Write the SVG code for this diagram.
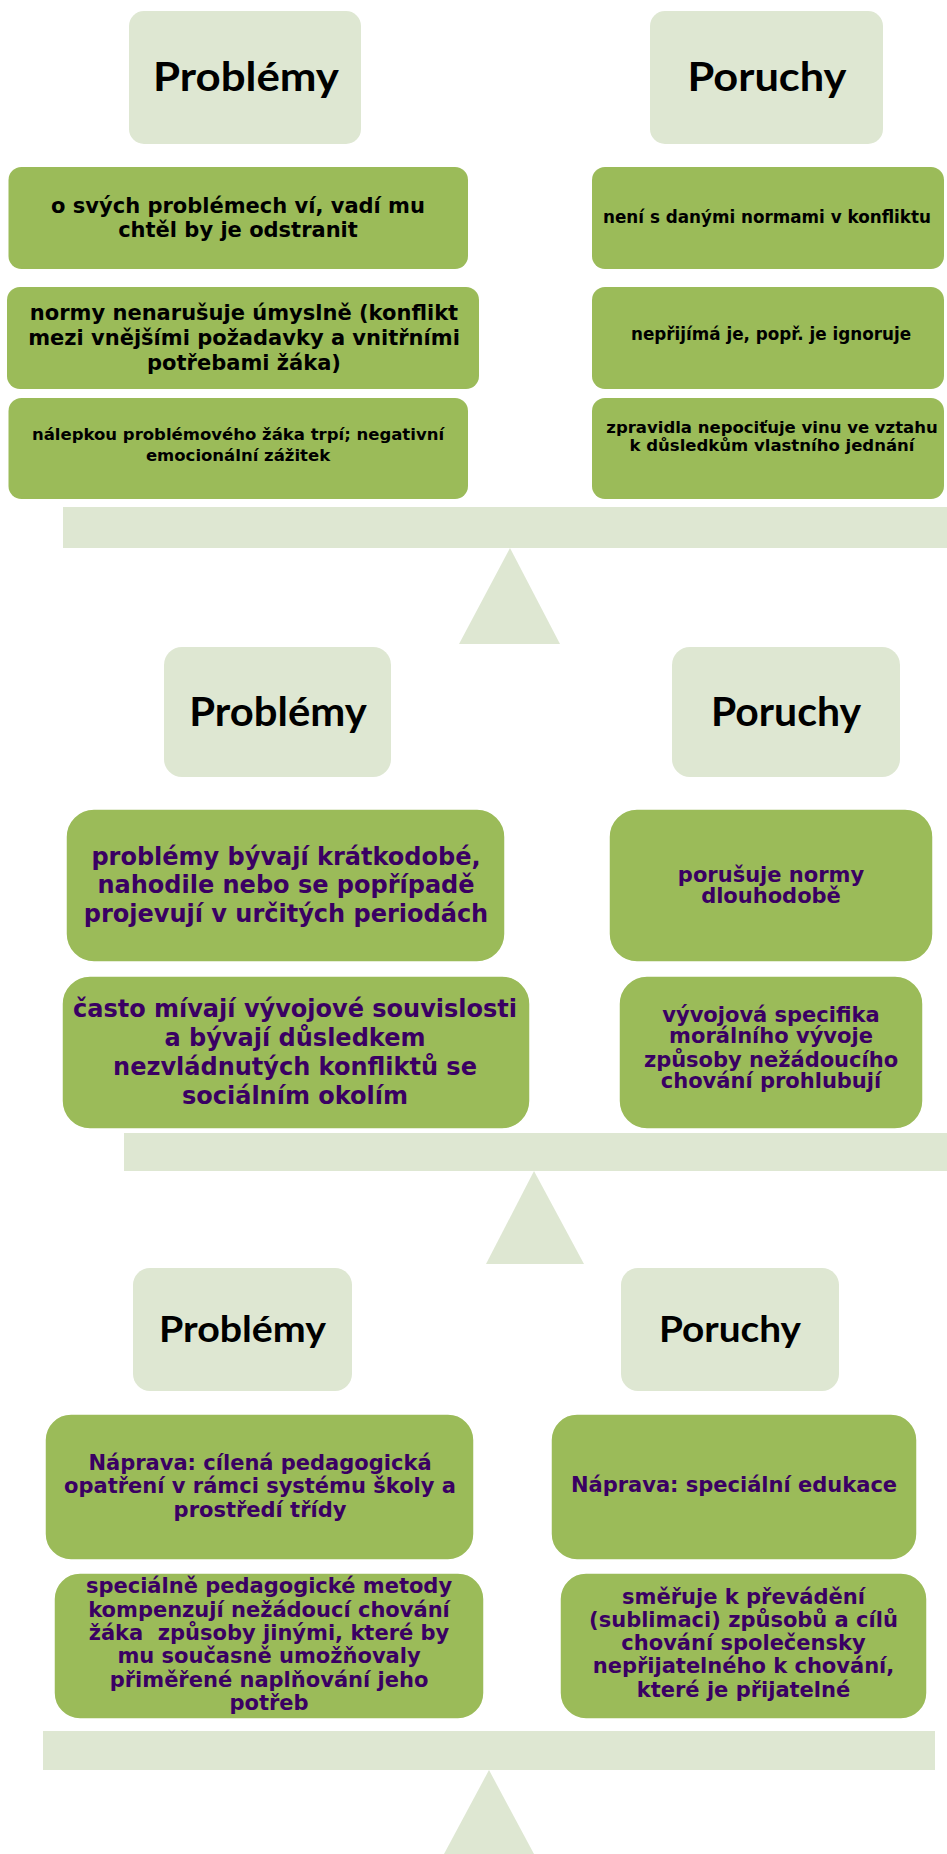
<svg xmlns="http://www.w3.org/2000/svg" width="947" height="1854" viewBox="0 0 947 1854">
<style>
.hdr{fill:#DEE7D2}
.g{fill:#9BBB59}
.g2{fill:#9BBB59;stroke:#FFFFFF;stroke-width:1.5}
.base{fill:#DEE7D2}
.h{font-family:Lato,"Liberation Sans",sans-serif;font-weight:bold;fill:#000;text-anchor:middle}
.t{font-family:"DejaVu Sans","Liberation Sans",sans-serif;font-weight:bold;text-anchor:middle}
.k{fill:#000}
.p{fill:#3A0063}
</style>
<rect width="947" height="1854" fill="#FFFFFF"/>
<g id="scales">
<rect class="base" x="63" y="507" width="884" height="41"/>
<polygon class="base" points="510,548 560,644 459,644"/>
<rect class="base" x="124" y="1133" width="823" height="38"/>
<polygon class="base" points="534,1171 584,1264 486,1264"/>
<rect class="base" x="43" y="1731" width="892" height="39"/>
<polygon class="base" points="489,1770 534,1854 444,1854"/>
</g>
<g id="connectors"/>
<!-- Section 1 -->
<g id="s1-problemy">
<rect class="hdr" x="129" y="11" width="232" height="133" rx="15"/>
<text class="h" x="246" y="91" font-size="40" textLength="186" lengthAdjust="spacingAndGlyphs">Problémy</text>
</g>
<g id="s1-poruchy">
<rect class="hdr" x="650" y="11" width="233" height="133" rx="15"/>
<text class="h" x="767" y="91" font-size="40" textLength="159" lengthAdjust="spacingAndGlyphs">Poruchy</text>
</g>
<g id="s1-p1">
<rect class="g" x="8.5" y="167" width="459.5" height="102" rx="13"/>
<text class="t k" font-size="21" x="238"><tspan x="238" y="212.7">o svých problémech ví, vadí mu</tspan><tspan x="238" y="237.3">chtěl by je odstranit</tspan></text>
</g>
<g id="s1-p2">
<rect class="g" x="7" y="287" width="472" height="102" rx="13"/>
<text class="t k" font-size="21" x="244"><tspan x="244" y="320">normy nenarušuje úmyslně (konflikt</tspan><tspan x="244" y="345">mezi vnějšími požadavky a vnitřními</tspan><tspan x="244" y="370">potřebami žáka)</tspan></text>
</g>
<g id="s1-p3">
<rect class="g" x="8.5" y="398" width="459.5" height="101" rx="13"/>
<text class="t k" font-size="16.5" x="238"><tspan x="238" y="440">nálepkou problémového žáka trpí; negativní</tspan><tspan x="238" y="460.7">emocionální zážitek</tspan></text>
</g>
<g id="s1-r1">
<rect class="g" x="592" y="167" width="352" height="102" rx="13"/>
<text class="t k" font-size="16.8" x="767" y="223">není s danými normami v konfliktu</text>
</g>
<g id="s1-r2">
<rect class="g" x="592" y="287" width="352" height="102" rx="13"/>
<text class="t k" font-size="16.8" x="771" y="340">nepřijímá je, popř. je ignoruje</text>
</g>
<g id="s1-r3">
<rect class="g" x="592" y="398" width="352" height="101" rx="13"/>
<text class="t k" font-size="16.5" x="772"><tspan x="772" y="432.7">zpravidla nepociťuje vinu ve vztahu</tspan><tspan x="772" y="450.7">k důsledkům vlastního jednání</tspan></text>
</g>
<!-- Section 2 -->
<g id="s2-problemy">
<rect class="hdr" x="164" y="647" width="227" height="130" rx="18"/>
<text class="h" x="278" y="726" font-size="40.5" textLength="177.5" lengthAdjust="spacingAndGlyphs">Problémy</text>
</g>
<g id="s2-poruchy">
<rect class="hdr" x="672" y="647" width="228" height="130" rx="18"/>
<text class="h" x="786" y="726" font-size="40.5" textLength="150" lengthAdjust="spacingAndGlyphs">Poruchy</text>
</g>
<g id="s2-p1">
<rect class="g2" x="66" y="809" width="439" height="153" rx="28"/>
<text class="t p" font-size="24" x="286"><tspan x="286" y="865">problémy bývají krátkodobé,</tspan><tspan x="286" y="893.3">nahodile nebo se popřípadě</tspan><tspan x="286" y="921.7">projevují v určitých periodách</tspan></text>
</g>
<g id="s2-p2">
<rect class="g2" x="62" y="976" width="468" height="153" rx="28"/>
<text class="t p" font-size="24" x="295"><tspan x="295" y="1016.7">často mívají vývojové souvislosti</tspan><tspan x="295" y="1046">a bývají důsledkem</tspan><tspan x="295" y="1075">nezvládnutých konfliktů se</tspan><tspan x="295" y="1104">sociálním okolím</tspan></text>
</g>
<g id="s2-r1">
<rect class="g2" x="609" y="809" width="324" height="153" rx="28"/>
<text class="t p" font-size="21" x="771"><tspan x="771" y="881.7">porušuje normy</tspan><tspan x="771" y="903.3">dlouhodobě</tspan></text>
</g>
<g id="s2-r2">
<rect class="g2" x="619" y="976" width="304" height="153" rx="28"/>
<text class="t p" font-size="21" x="771"><tspan x="771" y="1021.7">vývojová specifika</tspan><tspan x="771" y="1043.3">morálního vývoje</tspan><tspan x="771" y="1066.7">způsoby nežádoucího</tspan><tspan x="771" y="1088.3">chování prohlubují</tspan></text>
</g>
<!-- Section 3 -->
<g id="s3-problemy">
<rect class="hdr" x="133" y="1268" width="219" height="123" rx="17"/>
<text class="h" x="242.5" y="1342" font-size="36.5" textLength="167" lengthAdjust="spacingAndGlyphs">Problémy</text>
</g>
<g id="s3-poruchy">
<rect class="hdr" x="621" y="1268" width="218" height="123" rx="17"/>
<text class="h" x="730" y="1342" font-size="36.5" textLength="142" lengthAdjust="spacingAndGlyphs">Poruchy</text>
</g>
<g id="s3-p1">
<rect class="g2" x="45" y="1414" width="429" height="146" rx="26"/>
<text class="t p" font-size="21" x="260"><tspan x="260" y="1470">Náprava: cílená pedagogická</tspan><tspan x="260" y="1493.3">opatření v rámci systému školy a</tspan><tspan x="260" y="1516.7">prostředí třídy</tspan></text>
</g>
<g id="s3-p2">
<rect class="g2" x="54" y="1573" width="430" height="146" rx="26"/>
<text class="t p" font-size="21" x="269" xml:space="preserve"><tspan x="269" y="1593">speciálně pedagogické metody</tspan><tspan x="269" y="1616.7">kompenzují nežádoucí chování</tspan><tspan x="269" y="1640">žáka  způsoby jinými, které by</tspan><tspan x="269" y="1663.3">mu současně umožňovaly</tspan><tspan x="269" y="1686.7">přiměřené naplňování jeho</tspan><tspan x="269" y="1710">potřeb</tspan></text>
</g>
<g id="s3-r1">
<rect class="g2" x="551" y="1414" width="366" height="146" rx="26"/>
<text class="t p" font-size="21" x="734" y="1491.7">Náprava: speciální edukace</text>
</g>
<g id="s3-r2">
<rect class="g2" x="560" y="1573" width="367" height="146" rx="26"/>
<text class="t p" font-size="21" x="743.5"><tspan x="743.5" y="1604">směřuje k převádění</tspan><tspan x="743.5" y="1626.7">(sublimaci) způsobů a cílů</tspan><tspan x="743.5" y="1650">chování společensky</tspan><tspan x="743.5" y="1673.3">nepřijatelného k chování,</tspan><tspan x="743.5" y="1696.7">které je přijatelné</tspan></text>
</g>
</svg>
